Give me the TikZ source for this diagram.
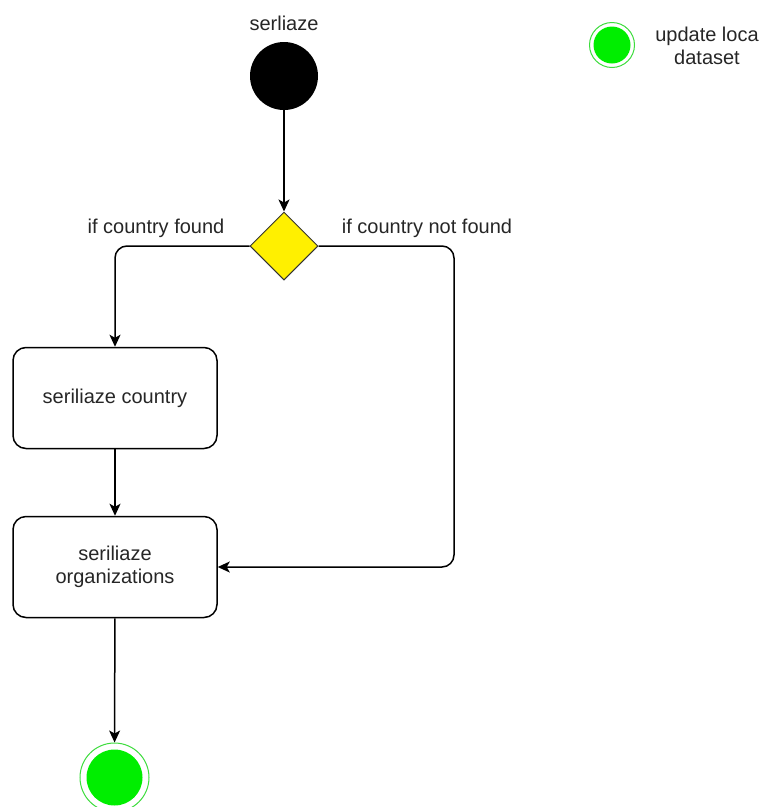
\documentclass[tikz,border=0pt]{standalone}
\usepackage{fontspec}
\setmainfont{Liberation Sans}
\usetikzlibrary{shapes.geometric,arrows.meta}
\definecolor{endgreen}{RGB}{0,238,0}
\definecolor{ringgreen}{RGB}{60,220,60}
\definecolor{decyellow}{RGB}{255,240,0}
\tikzset{
  lbl/.style={font=\fontsize{20}{23}\selectfont, text=black!85, align=center, inner sep=0pt},
  actbox/.style={draw, line width=1.5pt, rounded corners=13pt, minimum width=204pt, minimum height=101pt, align=center, font=\fontsize{20}{23}\selectfont, text=black!85},
  startdot/.style={circle, fill=black, minimum size=68pt, inner sep=0pt},
  decision/.style={diamond, draw=black!80, line width=1pt, fill=decyellow, minimum width=68pt, minimum height=68pt, inner sep=0pt, aspect=1},
  enddot/.style={circle, draw=ringgreen, line width=1pt, fill=white, minimum size=69pt, inner sep=0pt,
    path picture={\fill[endgreen] (path picture bounding box.center) circle (28pt);}},
  smallend/.style={circle, draw=ringgreen, line width=1pt, fill=white, minimum size=45pt, inner sep=0pt,
    path picture={\fill[endgreen] (path picture bounding box.center) circle (18.5pt);}},
  flow/.style={line width=1.5pt, -{Stealth[length=12pt,width=11pt,inset=3pt]}},
}
\begin{document}
\begin{tikzpicture}[x=1pt,y=-1pt]
\useasboundingbox (0,0) rectangle (764,807);

% start node and its caption
\node[lbl] (title) at (284,23) {serliaze};
\node[startdot] (start) at (284,76) {};

% decision
\node[decision] (dec) at (284,246) {};
\node[lbl] (lfound) at (156,228) {if country found};
\node[lbl] (lnot) at (427,228) {if country not found};

% activities
\node[actbox] (country) at (115,398) {seriliaze country};
\node[actbox] (orgs) at (115,567) {seriliaze\\organizations};

% final states
\node[enddot] (final) at (114.5,777.5) {};
\node[smallend] (final2) at (612,45) {};
\node[lbl] (ulabel) at (707,46) {update loca\\dataset};

% connectors
\draw[flow] (start) -- (dec);
\draw[flow, rounded corners=12pt] (dec.west) -| (country.north);
\draw[flow, rounded corners=12pt] (dec.east) -| (454,400) |- (orgs.east);
\draw[flow] (country) -- (orgs);
\draw[flow] (orgs) -- (final);
\end{tikzpicture}
\end{document}
